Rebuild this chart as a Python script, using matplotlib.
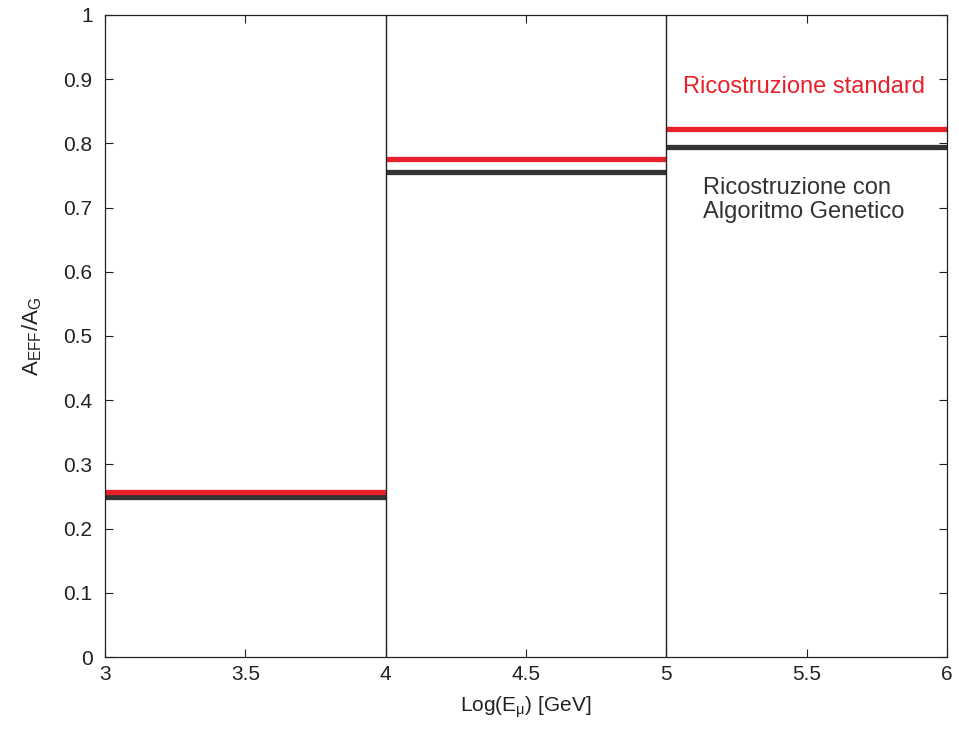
import numpy as np
import matplotlib.pyplot as plt

plt.rcParams['font.family'] = ['Liberation Sans', 'DejaVu Sans']
plt.rcParams['mathtext.fontset'] = 'custom'
plt.rcParams['mathtext.rm'] = 'Liberation Sans'
plt.rcParams['mathtext.it'] = 'Liberation Sans:italic'

# bordi dei bin in Log(E) e rapporti di area efficace
bin_edges = [3, 4, 5, 6]
standard = [0.257, 0.776, 0.823]
genetico = [0.249, 0.756, 0.795]

red = '#e8202a'
dark = '#333333'

fig = plt.figure(figsize=(9.59, 7.34), dpi=100)
ax = fig.add_axes([0.1095, 0.1049, 0.8780, 0.8747])

ax.hlines(genetico, bin_edges[:-1], bin_edges[1:], color=dark, lw=3.8)
ax.hlines(standard, bin_edges[:-1], bin_edges[1:], color=red, lw=3.8)
for e in bin_edges[1:-1]:
    ax.axvline(e, color='#222222', lw=1.0)

ax.set_xlim(3, 6)
ax.set_ylim(0, 1)
ax.set_xticks(np.arange(3, 6.01, 0.5))
ax.set_xticklabels(['3', '3.5', '4', '4.5', '5', '5.5', '6'])
ax.set_yticks(np.arange(0, 1.01, 0.1))
ax.set_yticklabels(['0', '0.1', '0.2', '0.3', '0.4', '0.5', '0.6', '0.7', '0.8', '0.9', '1'])
ax.tick_params(direction='in', top=True, right=True, length=6, width=0.8,
               labelsize=15, colors='#222222')
ax.tick_params(axis='y', pad=9)
ax.tick_params(axis='x', pad=6)
for s in ax.spines.values():
    s.set_linewidth(0.9)
    s.set_color('#222222')

ax.set_xlabel(r'Log(E$_\mathrm{μ}$) [GeV]', fontsize=15, color='#222222', labelpad=7)
ax.set_ylabel(r'A$_{\mathrm{EFF}}$/A$_\mathrm{G}$', fontsize=16, color='#222222', labelpad=14)

ax.text(5.06, 0.888, 'Ricostruzione standard', color=red, fontsize=17, va='center')
ax.text(5.13, 0.712, 'Ricostruzione con\nAlgoritmo Genetico', color=dark,
        fontsize=17, va='center', linespacing=1.12)

fig.savefig('out.png', dpi=100)
